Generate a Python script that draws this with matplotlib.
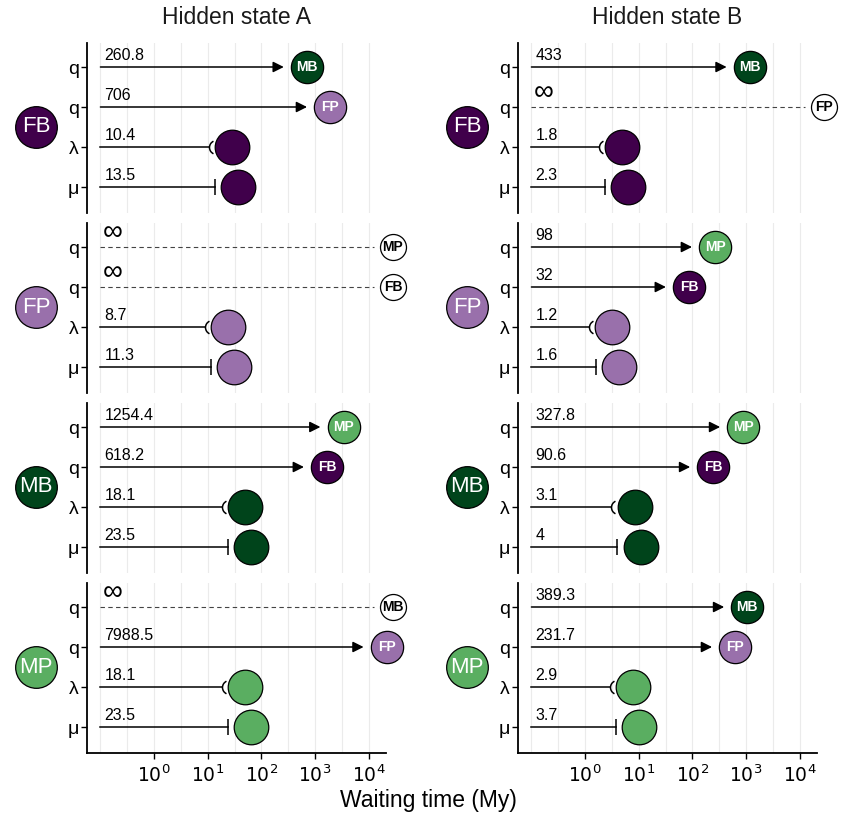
import numpy as np
import matplotlib
matplotlib.use("Agg")
import matplotlib.pyplot as plt
from matplotlib.path import Path
from matplotlib.ticker import FixedLocator, NullFormatter, FixedFormatter
from matplotlib.transforms import blended_transform_factory

plt.rcParams["font.family"] = ["Liberation Sans", "DejaVu Sans"]

INF = np.inf

# ---------------------------------------------------------------------------
# Data (waiting times in My); rows: q (first target), q (second target), λ, μ
# ---------------------------------------------------------------------------
STATES = ["FB", "FP", "MB", "MP"]
ROW_LABELS = ["q", "q", "λ", "μ"]
Q1_TARGET = ["MB", "MP", "MP", "MB"]
Q2_TARGET = ["FP", "FB", "FB", "FP"]

Q1_A = [260.8, INF, 1254.4, INF]
Q2_A = [706, INF, 618.2, 7988.5]
LAMBDA_A = [10.4, 8.7, 18.1, 18.1]
MU_A = [13.5, 11.3, 23.5, 23.5]

Q1_B = [433, 98, 327.8, 389.3]
Q2_B = [INF, 32, 90.6, 231.7]
LAMBDA_B = [1.8, 1.2, 3.1, 2.9]
MU_B = [2.3, 1.6, 4, 3.7]

COLUMNS = [
    ("Hidden state A", Q1_A, Q2_A, LAMBDA_A, MU_A),
    ("Hidden state B", Q1_B, Q2_B, LAMBDA_B, MU_B),
]

COLORS = {"FB": "#40004B", "FP": "#9970AB", "MB": "#00441B", "MP": "#5AAE61"}

# Styling / layout constants
X_START = 0.1
CIRCLE_SHIFT = 10 ** 0.43       # circle sits this factor right of the line end
INF_END = 10 ** 4.1             # where the dashed "infinite" line stops
INF_CIRCLE = 10 ** 4.45
XLIM = (10 ** -1.25, 10 ** 4.32)
W, H = 843, 813
COL_LEFT = [87, 518]
AX_W = 299
PANEL_TOP0, PANEL_STEP, PANEL_H = 43, 180, 170
VALUE_FS = 11.5
BADGE_FS = 10

# "(" shaped end cap for the λ line: part of a circle opening to the right,
# shifted so its leftmost point sits on the line end
_arc = Path.arc(115, 245)
ARC = Path(_arc.vertices + [1.0, 0.0], _arc.codes)


def draw_panel(ax, state, q1, q2, lam, mu, t1, t2, bottom):
    ax.set_xscale("log")
    ax.set_xlim(*XLIM)
    ax.set_ylim(3.65, -0.6)

    # grid at decades and half decades
    ax.xaxis.set_major_locator(FixedLocator([10.0 ** k for k in range(0, 5)]))
    ax.xaxis.set_minor_locator(FixedLocator([10.0 ** (k / 2) for k in range(-2, 9) if k % 2 or k == -2]))
    ax.xaxis.set_minor_formatter(NullFormatter())
    ax.grid(True, which="both", axis="x", color="#ebebeb", lw=0.8, zorder=0)
    ax.set_axisbelow(True)

    for s in ("top", "right"):
        ax.spines[s].set_visible(False)
    ax.spines["left"].set_linewidth(1.3)
    ax.spines["bottom"].set_linewidth(1.3)
    ax.tick_params(axis="x", which="minor", length=0)
    if bottom:
        ax.xaxis.set_major_formatter(FixedFormatter([f"$10^{{{k}}}$" for k in range(0, 5)]))
        ax.tick_params(axis="x", which="major", length=4, width=1.0, labelsize=13.5, pad=4)
    else:
        ax.spines["bottom"].set_visible(False)
        ax.tick_params(axis="x", which="both", length=0, labelbottom=False)

    ax.set_yticks(range(4))
    ax.set_yticklabels(ROW_LABELS)
    ax.tick_params(axis="y", length=4, width=1.0, labelsize=14, pad=2)

    # q rows
    for row, (v, tgt) in enumerate(((q1, t1), (q2, t2))):
        if np.isinf(v):
            ax.plot([X_START, INF_END], [row, row], ls=(0, (4, 3)), color="#444444",
                    lw=0.8, zorder=2)
            ax.scatter([INF_CIRCLE], [row], s=350, c="white", edgecolors="black",
                       linewidths=0.9, zorder=4, clip_on=False)
            ax.text(INF_CIRCLE, row, tgt, ha="center", va="center", fontsize=BADGE_FS,
                    fontweight="bold", color="black", zorder=5, clip_on=False)
            ax.annotate("∞", xy=(X_START, row), xytext=(2, 1), textcoords="offset points",
                        ha="left", va="bottom", fontsize=20, zorder=3)
        else:
            ax.annotate("", xy=(v, row), xytext=(X_START, row),
                        arrowprops=dict(arrowstyle="-|>", color="black", lw=1.1,
                                        mutation_scale=16, shrinkA=0, shrinkB=0),
                        zorder=3)
            cx = v * CIRCLE_SHIFT
            ax.scatter([cx], [row], s=540, c=COLORS[tgt], edgecolors="black",
                       linewidths=0.9, zorder=4, clip_on=False)
            ax.text(cx, row, tgt, ha="center", va="center", fontsize=BADGE_FS,
                    fontweight="bold", color="white", zorder=5, clip_on=False)
            ax.annotate(f"{v:g}", xy=(X_START, row), xytext=(3, 5),
                        textcoords="offset points", ha="left", va="baseline",
                        fontsize=VALUE_FS, zorder=3)

    # λ and μ rows
    for row, v, marker, ms in ((2, lam, ARC, 9), (3, mu, "|", 12)):
        ax.plot([X_START, v], [row, row], color="black", lw=1.1, zorder=3)
        ax.plot([v], [row], marker=marker, ms=ms, mew=1.1, mfc="none",
                mec="black", zorder=3)
        cx = v * CIRCLE_SHIFT
        ax.scatter([cx], [row], s=620, c=COLORS[state], edgecolors="black",
                   linewidths=0.9, zorder=4, clip_on=False)
        ax.annotate(f"{v:g}", xy=(X_START, row), xytext=(3, 5),
                    textcoords="offset points", ha="left", va="baseline",
                    fontsize=VALUE_FS, zorder=3)

    # big state badge to the left of the axis
    tr = blended_transform_factory(ax.transAxes, ax.transData)
    ax.scatter([-0.17], [1.5], s=900, c=COLORS[state], edgecolors="black",
               linewidths=0.9, transform=tr, clip_on=False, zorder=4)
    ax.text(-0.17, 1.5, state, transform=tr, ha="center", va="center",
            fontsize=16, color="white", zorder=5, clip_on=False)


fig = plt.figure(figsize=(W / 100, H / 100), dpi=100)

for c, (title, q1s, q2s, lams, mus) in enumerate(COLUMNS):
    for i, state in enumerate(STATES):
        top = PANEL_TOP0 + PANEL_STEP * i
        ax = fig.add_axes([COL_LEFT[c] / W, 1 - (top + PANEL_H) / H, AX_W / W, PANEL_H / H])
        draw_panel(ax, state, q1s[i], q2s[i], lams[i], mus[i],
                   Q1_TARGET[i], Q2_TARGET[i], bottom=(i == len(STATES) - 1))
    fig.text((COL_LEFT[c] + AX_W / 2) / W, 1 - 18 / H, title, ha="center",
             va="center", fontsize=16.5, color="#1a1a1a")

fig.text(428 / W, 1 - 800 / H, "Waiting time (My)", ha="center", va="center",
         fontsize=16.5)

fig.savefig("out.png", dpi=100)
